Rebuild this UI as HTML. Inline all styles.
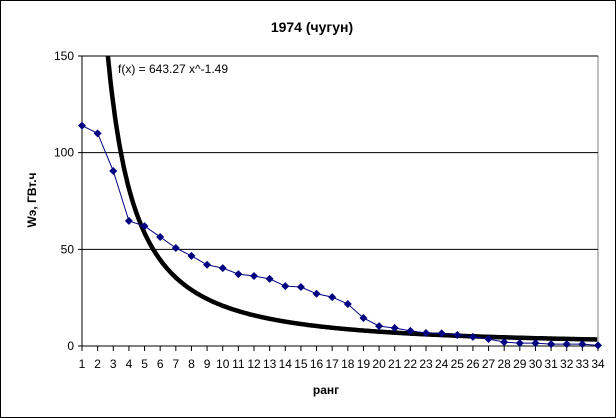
<!DOCTYPE html>
<html><head><meta charset="utf-8"><style>
body{margin:0;background:#fff}
svg{display:block;font-family:"Liberation Sans",sans-serif}
</style></head><body>
<svg width="616" height="418">
<defs><clipPath id="pc"><rect x="82" y="56" width="516" height="292"/></clipPath></defs>
<rect x="0.5" y="0.5" width="615" height="417" fill="#fff" stroke="#000"/>
<text x="312" y="32" text-anchor="middle" font-size="14" font-weight="bold">1974 (чугун)</text>
<text transform="translate(36,200) rotate(-90)" text-anchor="middle" font-size="12" font-weight="bold">Wэ, ГВт.ч</text>
<text x="326" y="394" text-anchor="middle" font-size="12" font-weight="bold">ранг</text>
<g id="plot"></g>
</svg>
<script>
const ranks=[1,2,3,4,5,6,7,8,9,10,11,12,13,14,15,16,17,18,19,20,21,22,23,24,25,26,27,28,29,30,31,32,33,34];
const values=[114,110,90.5,64.7,62,56.4,50.7,46.6,42,40.3,37.2,36.2,34.7,31,30.5,27,25.3,21.7,14.5,10.3,9.3,7.8,6.7,6.5,5.7,4.7,3.6,2,1.5,1.5,1,1,1,0.3];
const yTicks=[0,50,100,150];
const fitA=643.27, fitB=-1.49;
const x0=82,x1=598,yTop=56,yBot=346,yMax=150;
const X=r=>x0+(r-1)*(x1-x0)/(ranks.length-1);
const Y=v=>yBot-v*(yBot-yTop)/yMax;
const g=document.getElementById('plot');
const NS='http://www.w3.org/2000/svg';
function mk(t,a){const e=document.createElementNS(NS,t);for(const k in a)e.setAttribute(k,a[k]);g.appendChild(e);return e;}
let e=mk('line',{x1:x1,y1:yTop,x2:x1,y2:yBot,stroke:'#808080'});


yTicks.forEach(t=>{
 let l=mk('line',{x1:x0-4,y1:Y(t),x2:x1,y2:Y(t),stroke:'#000'});
 
 
 let tx=mk('text',{x:x0-8,y:Y(t)+4,'text-anchor':'end','font-size':'12'});
 tx.textContent=t;
 
 
});
e=mk('line',{x1:x0,y1:yTop,x2:x0,y2:yBot,stroke:'#000'});


ranks.forEach(r=>{
 let l=mk('line',{x1:X(r),y1:yBot,x2:X(r),y2:yBot+5,stroke:'#000'});
 
 
 let tx=mk('text',{x:X(r),y:yBot+22,'text-anchor':'middle','font-size':'12'});
 tx.textContent=r;
 
 
});
let pts=[];
for(let r=1;r<=ranks.length;r+=0.05){const v=fitA*Math.pow(r,fitB);if(v<=yMax*1.3)pts.push(X(r).toFixed(1)+','+Y(v).toFixed(1));}
e=mk('polyline',{points:pts.join(' '),fill:'none',stroke:'#000','stroke-width':'4.5','clip-path':'url(#pc)'});


e=mk('polyline',{points:ranks.map((r,i)=>X(r)+','+Y(values[i])).join(' '),fill:'none',stroke:'#000080','stroke-width':'1'});


ranks.forEach((r,i)=>{
 const x=X(r),y=Y(values[i]);
 let p=mk('polygon',{points:`${x},${y-4} ${x+4},${y} ${x},${y+4} ${x-4},${y}`,fill:'#000080'});
 
 
});
e=mk('text',{x:118,y:73,'font-size':'12'});
e.textContent='f(x) = 643.27 x^-1.49';


</script>
</body></html>
